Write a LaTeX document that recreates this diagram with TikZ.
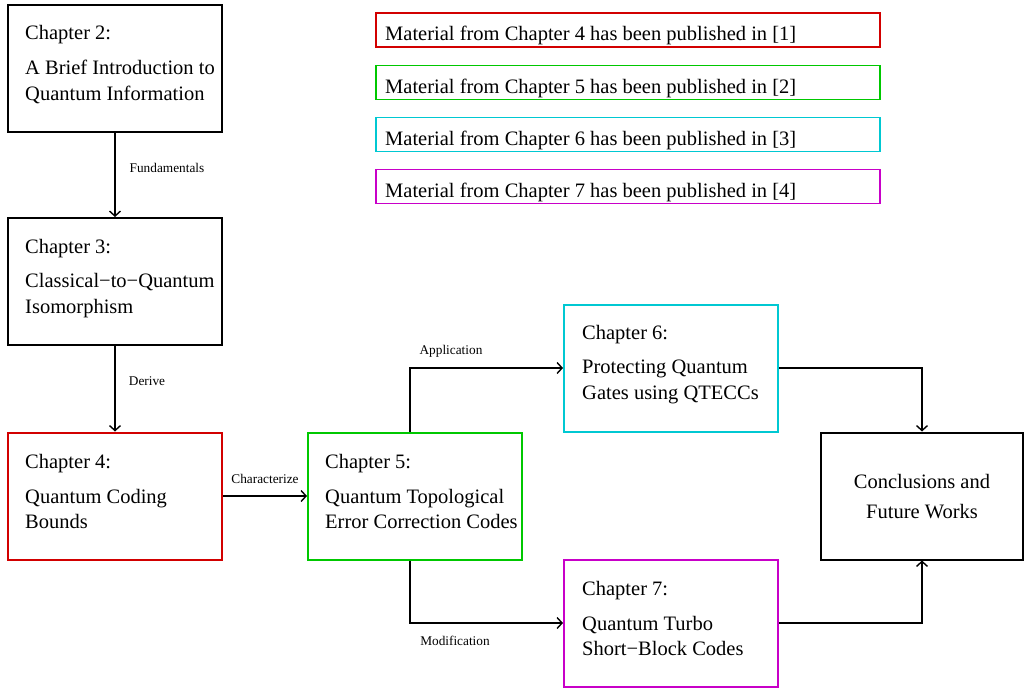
\documentclass[tikz,border=0pt]{standalone}
\usepackage{fontspec}
\setmainfont{Liberation Serif}
\usetikzlibrary{arrows.meta,calc}
\definecolor{cred}{RGB}{210,0,0}
\definecolor{cgreen}{RGB}{0,200,0}
\definecolor{ccyan}{RGB}{0,200,210}
\definecolor{cmag}{RGB}{200,0,200}
\begin{document}
\begin{tikzpicture}[x=1pt,y=-1pt,
 box/.style={draw,line width=2pt,minimum width=214pt,minimum height=127pt,inner sep=0pt},
 txt/.style={anchor=base west,inner sep=0pt,font=\fontsize{20.5}{22}\selectfont},
 ctxt/.style={anchor=base,inner sep=0pt,font=\fontsize{20.5}{22}\selectfont},
 lbl/.style={inner sep=0pt,font=\fontsize{13.3}{15}\selectfont},
 conn/.style={line width=1.4pt,-{Straight Barb[length=5pt,width=11pt,line width=1.4pt]}},
 leg/.style={draw,line width=1.8pt,minimum width=504pt,minimum height=34pt,inner sep=0pt}]
\useasboundingbox (0,0) rectangle (1025,688);
% legend
\node[leg,draw=cred] (l1) at (628,30) {};
\node[leg,draw=cgreen] (l2) at (628,82.5) {};
\node[leg,draw=ccyan] (l3) at (628,134.5) {};
\node[leg,draw=cmag] (l4) at (628,186.5) {};
\node[txt] (l1t) at (385,40.5) {Material from Chapter 4 has been published in [1]};
\node[txt] (l2t) at (385,93) {Material from Chapter 5 has been published in [2]};
\node[txt] (l3t) at (385,145) {Material from Chapter 6 has been published in [3]};
\node[txt] (l4t) at (385,197) {Material from Chapter 7 has been published in [4]};
% boxes
\node[box] (c2) at (115,68.5) {};
\node[box] (c3) at (115,281.5) {};
\node[box,draw=cred] (c4) at (115,496) {};
\node[box,draw=cgreen] (c5) at (415,496) {};
\node[box,draw=ccyan] (c6) at (671,368) {};
\node[box,draw=cmag] (c7) at (671,623) {};
\node[box,minimum width=202pt] (cc) at (922,496) {};
% texts
\node[txt] (c2a) at (25,39.5) {Chapter 2:};
\node[txt] (c2b) at (25,74.5) {A Brief Introduction to};
\node[txt] (c2c) at (25,100.5) {Quantum Information};
\node[txt] (c3a) at (25,253.5) {Chapter 3:};
\node[txt] (c3b) at (25,287.5) {Classical−to−Quantum};
\node[txt] (c3c) at (25,313.5) {Isomorphism};
\node[txt] (c4a) at (25,468.5) {Chapter 4:};
\node[txt] (c4b) at (25,503.5) {Quantum Coding};
\node[txt] (c4c) at (25,528.5) {Bounds};
\node[txt] (c5a) at (325,468.5) {Chapter 5:};
\node[txt] (c5b) at (325,503.5) {Quantum Topological};
\node[txt] (c5c) at (325,528.5) {Error Correction Codes};
\node[txt] (c6a) at (582,339.5) {Chapter 6:};
\node[txt] (c6b) at (582,373.5) {Protecting Quantum};
\node[txt] (c6c) at (582,399.5) {Gates using QTECCs};
\node[txt] (c7a) at (582,595.5) {Chapter 7:};
\node[txt] (c7b) at (582,630.5) {Quantum Turbo};
\node[txt] (c7c) at (582,655.5) {Short−Block Codes};
\node[ctxt] (cca) at (922,488.5) {Conclusions and};
\node[ctxt] (ccb) at (922,518.5) {Future Works};
% connectors
\draw[conn] (c2) -- (c3);
\draw[conn] (c3) -- (c4);
\draw[conn] (c4) -- (c5);
\draw[conn] ([xshift=-5pt]c5.north) |- (c6.west);
\draw[conn] ([xshift=-5pt]c5.south) |- (c7.west);
\draw[conn] (c6.east) -| (cc.north);
\draw[conn] (c7.east) -| (cc.south);
% labels
\node[lbl] (f1) at (167,168) {Fundamentals};
\node[lbl] (f2) at (147,381) {Derive};
\node[lbl] (f3) at (265,479) {Characterize};
\node[lbl] (f4) at (451,351) {Application};
\node[lbl] (f5) at (455,641) {Modification};
\end{tikzpicture}
\end{document}
